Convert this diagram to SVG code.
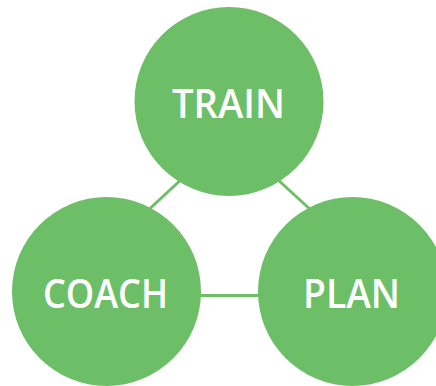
<svg xmlns="http://www.w3.org/2000/svg" width="436" height="386" viewBox="0 0 436 386">
<style>
.node{fill:#6dbf67}
.lbl{fill:#ffffff;font-family:"Open Sans","Liberation Sans",sans-serif;font-size:39px;font-weight:600;text-anchor:middle}
.conn{stroke:#6dbf67;stroke-width:3;fill:none}
</style>
<rect width="436" height="386" fill="#ffffff"/>
<g id="connectors">
<line class="conn" x1="229" y1="135" x2="100" y2="255"/>
<line class="conn" x1="229" y1="135" x2="360" y2="255"/>
<line class="conn" x1="150" y1="295.5" x2="300" y2="295.5"/>
</g>
<g id="train">
<circle class="node" cx="229" cy="101.5" r="94.5"/>
<text class="lbl" x="228.5" y="118" textLength="113" lengthAdjust="spacingAndGlyphs">TRAIN</text>
</g>
<g id="coach">
<circle class="node" cx="106.5" cy="291.5" r="94.5"/>
<text class="lbl" x="105.5" y="308" textLength="125" lengthAdjust="spacingAndGlyphs">COACH</text>
</g>
<g id="plan">
<circle class="node" cx="352.5" cy="291.5" r="94.5"/>
<text class="lbl" x="351.5" y="308" textLength="97" lengthAdjust="spacingAndGlyphs">PLAN</text>
</g>
</svg>
